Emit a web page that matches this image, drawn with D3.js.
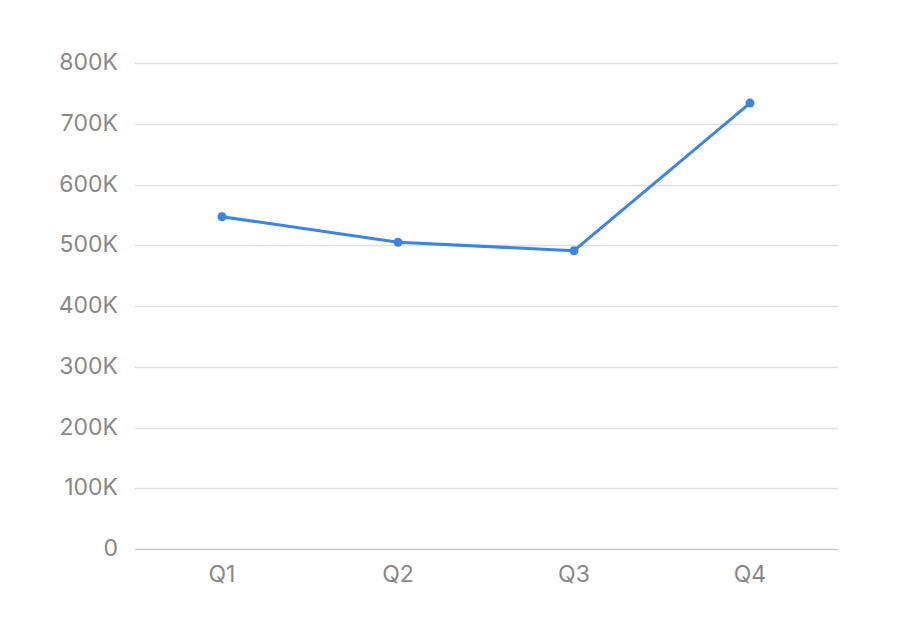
<!DOCTYPE html>
<html><head><meta charset="utf-8">
<script src="https://cdn.jsdelivr.net/npm/d3@7/dist/d3.min.js"></script>
<style>body{margin:0;background:#fff}</style>
</head><body><svg id="c" width="900" height="642"></svg>
<script>
const categories = ["Q1","Q2","Q3","Q4"];
const values = [547000, 505000, 491000, 734000];
const yTicks = [0,100000,200000,300000,400000,500000,600000,700000,800000];
const yTickLabels = ["0","100K","200K","300K","400K","500K","600K","700K","800K"];

const svg = d3.select("#c");
const m = {left:135, right:62, top:63, bottom:93};
const W = 900, H = 642;
const x = d3.scaleBand().domain(categories).range([m.left-1, W-m.right]);
const y = d3.scaleLinear().domain([0,800000]).range([H-m.bottom, m.top]);
const font = "Inter, 'Helvetica Neue', Helvetica, Arial, sans-serif";

const g = svg.append("g");
g.selectAll("line.grid").data(yTicks.slice(1)).join("line")
  .attr("x1", m.left).attr("x2", W-m.right)
  .attr("y1", d=>Math.round(y(d))+0.5).attr("y2", d=>Math.round(y(d))+0.5)
  .attr("stroke","#e0e0e0").attr("stroke-width",1.3);
g.append("line").attr("x1", m.left).attr("x2", W-m.right)
  .attr("y1", Math.round(y(0))+0.5).attr("y2", Math.round(y(0))+0.5)
  .attr("stroke","#c8c8c8").attr("stroke-width",1.5);

g.selectAll("text.yl").data(yTicks).join("text")
  .attr("x", 118).attr("y", d=>y(d)+7)
  .attr("text-anchor","end").attr("fill","#888").attr("font-family",font).attr("font-size",23)
  .text((d,i)=>yTickLabels[i]);
g.selectAll("text.xl").data(categories).join("text")
  .attr("x", d=>x(d)+x.bandwidth()/2).attr("y", 582)
  .attr("text-anchor","middle").attr("fill","#888").attr("font-family",font).attr("font-size",23)
  .text(d=>d);

const line = d3.line().x((d,i)=>x(categories[i])+x.bandwidth()/2).y(d=>y(d));
g.append("path").datum(values).attr("d", line).attr("fill","none")
  .attr("stroke","#3a84e4").attr("stroke-width",3).attr("stroke-linejoin","round");
g.selectAll("circle").data(values).join("circle")
  .attr("cx",(d,i)=>x(categories[i])+x.bandwidth()/2).attr("cy",d=>y(d)).attr("r",4.5)
  .attr("fill","#3a84e4");
</script></body></html>
